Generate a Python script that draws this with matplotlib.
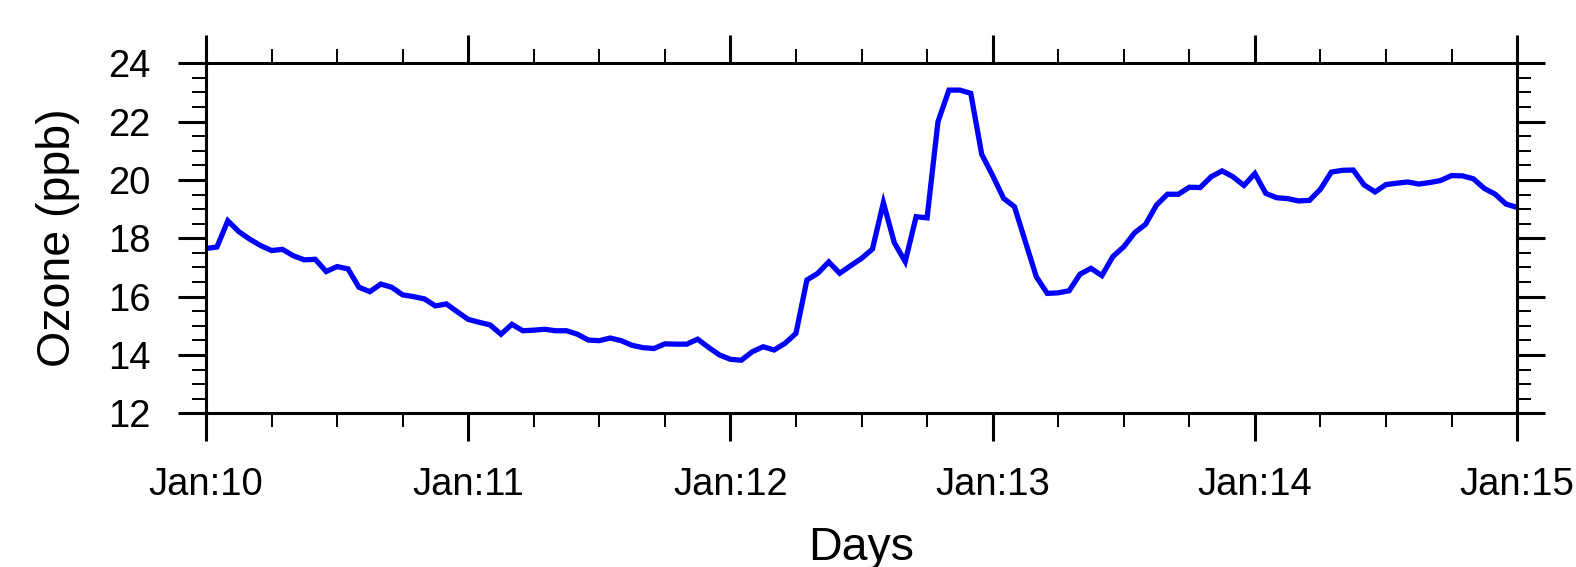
import numpy as np
import matplotlib
matplotlib.use('Agg')
import matplotlib.pyplot as plt
from matplotlib.ticker import MultipleLocator

plt.rcParams['font.family'] = ['Liberation Sans', 'DejaVu Sans']

# hourly surface ozone (ppb), 00 UTC Jan 10 to 00 UTC Jan 15
ozone = [
    17.65, 17.70, 18.60, 18.23, 17.97, 17.75, 17.58, 17.62, 17.40, 17.26,
    17.28, 16.86, 17.03, 16.95, 16.32, 16.17, 16.43, 16.32, 16.06, 16.00,
    15.92, 15.68, 15.75, 15.48, 15.22, 15.12, 15.03, 14.71, 15.05, 14.83,
    14.85, 14.88, 14.83, 14.83, 14.71, 14.51, 14.49, 14.58, 14.49, 14.33,
    14.25, 14.22, 14.38, 14.37, 14.37, 14.54, 14.26, 14.00, 13.85, 13.82,
    14.11, 14.28, 14.17, 14.40, 14.74, 16.57, 16.80, 17.19, 16.80, 17.06,
    17.31, 17.63, 19.22, 17.85, 17.20, 18.74, 18.70, 22.00, 23.08, 23.08,
    22.97, 20.88, 20.15, 19.37, 19.08, 17.88, 16.68, 16.11, 16.13, 16.20,
    16.77, 16.97, 16.72, 17.37, 17.71, 18.19, 18.48, 19.14, 19.51, 19.51,
    19.75, 19.74, 20.11, 20.31, 20.11, 19.81, 20.22, 19.54, 19.39, 19.36,
    19.28, 19.30, 19.68, 20.27, 20.33, 20.34, 19.83, 19.59, 19.84, 19.89,
    19.93, 19.86, 19.91, 19.98, 20.15, 20.14, 20.04, 19.71, 19.51, 19.17,
    19.06,
]
day_labels = ['Jan:10', 'Jan:11', 'Jan:12', 'Jan:13', 'Jan:14', 'Jan:15']
y_ticks = [12, 14, 16, 18, 20, 22, 24]

hours = np.arange(len(ozone))

fig = plt.figure(figsize=(15.76, 5.67), dpi=100)
ax = fig.add_axes([0.1307, 0.2711, 0.8319, 0.6173])

ax.plot(hours, ozone, color='#0000ff', linewidth=3.8, solid_joinstyle='miter')

ax.set_xlim(0, 120)
ax.set_ylim(12, 24)
ax.set_xticks(np.arange(0, 121, 24))
ax.set_xticklabels(day_labels)
ax.xaxis.set_minor_locator(MultipleLocator(6))
ax.set_yticks(y_ticks)
ax.yaxis.set_minor_locator(MultipleLocator(0.5))

for s in ax.spines.values():
    s.set_linewidth(2.2)
    s.set_color('black')

# NCL-style ticks: outward on every side
ax.tick_params(which='major', direction='out', length=20.5, width=2.2,
               top=True, right=True, labelsize=27.5, pad=18)
ax.tick_params(which='minor', direction='out', length=10, width=1.4,
               top=True, right=True)
ax.tick_params(axis='y', which='major', pad=19.5)

fig.text(58 / 1576, 0.580, 'Ozone (ppb)', rotation=90, ha='center',
         va='center', fontsize=33.5)
fig.text(861 / 1576, 1 - 560 / 567, 'Days', ha='center', va='baseline',
         fontsize=33.5)

fig.savefig('out.png', dpi=100)
